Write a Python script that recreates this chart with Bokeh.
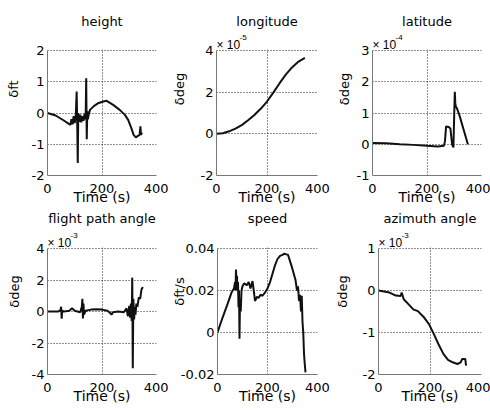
from bokeh.plotting import figure
from bokeh.models import Range1d, FixedTicker, Label, BoxAnnotation
from bokeh.layouts import column, row
from bokeh.embed import file_html
from bokeh.resources import INLINE

FONT = "DejaVu Sans"
EXP_FONT = "Liberation Sans"

time_ticks = [0, 200, 400]
time_label = "Time (s)"

# ---- height (ft) ----
height_t = [0, 30, 60, 84, 88, 92, 96, 100, 104, 107, 109, 111, 113, 116, 120, 124, 128, 132,
            136, 140, 142, 144, 146, 148, 152, 156, 170, 185, 205, 217, 241, 265, 284, 296,
            308, 316, 324, 332, 338, 341, 343, 347]
height_v = [0, -0.08, -0.24, -0.38, -0.2, -0.36, -0.1, -0.32, -0.05, 0.69, -0.3, -1.6, 0.0,
            -0.28, -0.05, -0.3, -0.1, -0.25, -0.02, -0.2, 1.11, -0.84, 0.05, -0.2, -0.02, 0.1,
            0.22, 0.31, 0.37, 0.39, 0.26, 0.1, -0.06, -0.22, -0.49, -0.7, -0.78, -0.73, -0.7,
            -0.43, -0.7, -0.62]

# ---- longitude (x 1e-5 deg) ----
lon_t = [0, 25, 50, 75, 100, 125, 150, 175, 200, 225, 250, 275, 300, 325, 350]
lon_v = [0, 0.03, 0.12, 0.25, 0.42, 0.65, 0.9, 1.2, 1.55, 1.98, 2.43, 2.85, 3.2, 3.47, 3.65]

# ---- latitude (x 1e-4 deg) ----
lat_t = [0, 50, 100, 150, 200, 240, 262, 266, 270, 280, 286, 292, 297, 300, 302, 304, 306,
         310, 320, 335, 350]
lat_v = [0.04, 0.03, 0.0, -0.02, -0.05, -0.07, -0.05, 0.1, 0.57, 0.55, 0.5, 0.0, -0.1, 1.0,
         1.68, 1.3, 1.2, 1.15, 0.9, 0.45, 0.0]

# ---- flight path angle (x 1e-3 deg) ----
fpa_t = [0, 20, 40, 48, 50, 52, 54, 60, 80, 90, 100, 120, 126, 128, 130, 132, 134, 140, 160,
         180, 200, 220, 230, 235, 240, 260, 280, 290, 295, 300, 303, 306, 309, 311, 313, 315,
         318, 320, 323, 326, 330, 335, 340, 345, 350]
fpa_v = [0, 0, 0, 0.1, 0.3, -0.45, 0.05, 0.0, 0.05, 0.2, 0.05, -0.05, 0.3, 0.8, -0.45, 0.5,
         -0.2, 0.05, 0.12, 0.15, 0.12, 0.05, -0.1, -0.2, -0.05, 0.0, -0.05, 0.2, -0.3, 0.35,
         -0.4, 0.5, -0.6, 2.15, -3.6, 0.8, -0.5, 0.3, -0.2, 0.5, 0.3, 0.9, 0.8, 1.4, 1.55]

# ---- speed (ft/s) ----
spd_t = [0, 20, 40, 56, 66, 70, 72, 74, 76, 78, 80, 82, 84, 86, 88, 90, 93, 96, 100, 107, 117,
         125, 132, 140, 145, 150, 158, 165, 172, 180, 190, 200, 210, 220, 230, 240, 250, 260,
         268, 275, 282, 290, 298, 305, 312, 318, 322, 326, 330, 334, 337, 340, 343, 346, 349, 352]
spd_v = [0, 0.007, 0.0135, 0.019, 0.021, 0.024, 0.02, 0.03, 0.022, 0.027, 0.02, 0.024, 0.012,
         0.02, -0.003, 0.016, 0.01, 0.02, 0.022, 0.0235, 0.0225, 0.024, 0.021, 0.0245, 0.02,
         0.015, 0.017, 0.0165, 0.018, 0.0175, 0.019, 0.021, 0.024, 0.028, 0.032, 0.035, 0.0365,
         0.037, 0.0375, 0.0372, 0.037, 0.034, 0.031, 0.028, 0.025, 0.02, 0.022, 0.015, 0.018,
         0.01, 0.0175, 0.005, 0.0, -0.01, -0.015, -0.019]

# ---- azimuth angle (x 1e-3 deg) ----
azi_t = [0, 43, 67, 86, 90, 98, 117, 135, 153, 178, 196, 215, 233, 252, 270, 288, 307, 319,
         325, 337, 340]
azi_v = [0, -0.05, -0.12, -0.13, -0.05, -0.21, -0.33, -0.45, -0.49, -0.65, -0.8, -1.04, -1.28,
         -1.51, -1.65, -1.71, -1.75, -1.71, -1.63, -1.63, -1.79]

panels = [
    dict(title="height", ylabel="δft", t=height_t, v=height_v, yr=(-2, 2),
         yticks=[-2, -1, 0, 1, 2], ylabels=["-2", "-1", "0", "1", "2"], exp=None),
    dict(title="longitude", ylabel="δdeg", t=lon_t, v=lon_v, yr=(-2, 4),
         yticks=[-2, 0, 2, 4], ylabels=["-2", "0", "2", "4"], exp="-5"),
    dict(title="latitude", ylabel="δdeg", t=lat_t, v=lat_v, yr=(-1, 3),
         yticks=[-1, 0, 1, 2, 3], ylabels=["-1", "0", "1", "2", "3"], exp="-4"),
    dict(title="flight path angle", ylabel="δdeg", t=fpa_t, v=fpa_v, yr=(-4, 4),
         yticks=[-4, -2, 0, 2, 4], ylabels=["-4", "-2", "0", "2", "4"], exp="-3"),
    dict(title="speed", ylabel="δft/s", t=spd_t, v=spd_v, yr=(-0.02, 0.04),
         yticks=[-0.02, 0, 0.02, 0.04], ylabels=["-0.02", "0", "0.02", "0.04"], exp=None),
    dict(title="azimuth angle", ylabel="δdeg", t=azi_t, v=azi_v, yr=(-2, 1),
         yticks=[-2, -1, 0, 1], ylabels=["-2", "-1", "0", "1"], exp="-3"),
]

# layout constants (pixels)
cols = [(168, 47, 12), (163, 41, 14), (159, 41, 9)]          # width, left, right border
# height, top border, bottom border, head room above the axes box, data box height, title offset
rows_ = [(208, 2, 33, 48, 125, 29), (202, 0, 36, 40, 126, 30)]
label_standoff = [8, 11, 2, 7, -9, 10]


def make(i, d):
    w, bl, br = cols[i % 3]
    h, bt, bb, head, box_h, toff = rows_[i // 3]
    ymin, ymax = d["yr"]
    span = ymax - ymin
    ytop = ymax + span * head / box_h        # extra room inside the frame for title texts
    p = figure(width=w, height=h, output_backend="svg", toolbar_location=None,
               x_range=Range1d(0, 400), y_range=Range1d(ymin, ytop),
               min_border_left=bl, min_border_right=br, min_border_top=bt,
               min_border_bottom=bb, title=None)
    p.outline_line_color = None
    p.background_fill_color = "white"
    p.border_fill_color = "white"
    p.line(d["t"], d["v"], line_color="#111111", line_width=2)
    p.xaxis.ticker = FixedTicker(ticks=time_ticks)
    p.yaxis.ticker = FixedTicker(ticks=d["yticks"])
    p.yaxis.bounds = (ymin, ymax)
    p.yaxis.major_label_overrides = {k: s for k, s in zip(d["yticks"], d["ylabels"])}
    p.xaxis.major_label_overrides = {k: str(k) for k in time_ticks}
    p.xaxis.axis_label = time_label
    p.yaxis.axis_label = d["ylabel"]
    for ax in (p.xaxis, p.yaxis):
        ax.axis_line_color = "#777777"
        ax.axis_line_width = 1
        ax.major_tick_line_color = None
        ax.minor_tick_line_color = None
        ax.major_tick_out = 0
        ax.major_tick_in = 0
        ax.major_label_text_font = FONT
        ax.major_label_text_font_size = "13px"
        ax.major_label_text_color = "black"
        ax.axis_label_text_font = FONT
        ax.axis_label_text_font_style = "normal"
        ax.axis_label_text_color = "black"
    p.xaxis.axis_label_text_font_size = "14px"
    p.yaxis.axis_label_text_font_size = "13px"
    p.xaxis.major_label_standoff = 8
    p.yaxis.major_label_standoff = 3
    p.xaxis.axis_label_standoff = -7
    p.yaxis.axis_label_standoff = label_standoff[i]
    for g in (p.xgrid, p.ygrid):
        g.grid_line_color = "#222222"
        g.grid_line_dash = "1 2"
        g.grid_line_width = 1
    # blank the head room so the vertical grid lines stop at the top of the axes box
    p.add_layout(BoxAnnotation(bottom=ymax + span * 1.0 / box_h, fill_color="white",
                               fill_alpha=1.0, line_color=None))
    p.add_layout(Label(x=200, y=ymax, y_offset=toff, text=d["title"],
                       text_baseline="alphabetic", text_align="center",
                       text_font=FONT, text_font_size="13px", text_color="black",
                       level="overlay"))
    if d["exp"]:
        p.add_layout(Label(x=0, y=ymax, x_offset=0, y_offset=6, text="× 10",
                           text_baseline="alphabetic", text_align="left", text_font=EXP_FONT,
                           text_font_size="12px", text_color="black", level="overlay"))
        p.add_layout(Label(x=0, y=ymax, x_offset=23, y_offset=13, text=d["exp"],
                           text_baseline="alphabetic", text_align="left", text_font=EXP_FONT,
                           text_font_size="8px", text_color="black", level="overlay"))
    return p


figs = [make(i, d) for i, d in enumerate(panels)]
layout = column(row(*figs[:3]), row(*figs[3:]))
open("out.html", "w").write(file_html(layout, INLINE))
